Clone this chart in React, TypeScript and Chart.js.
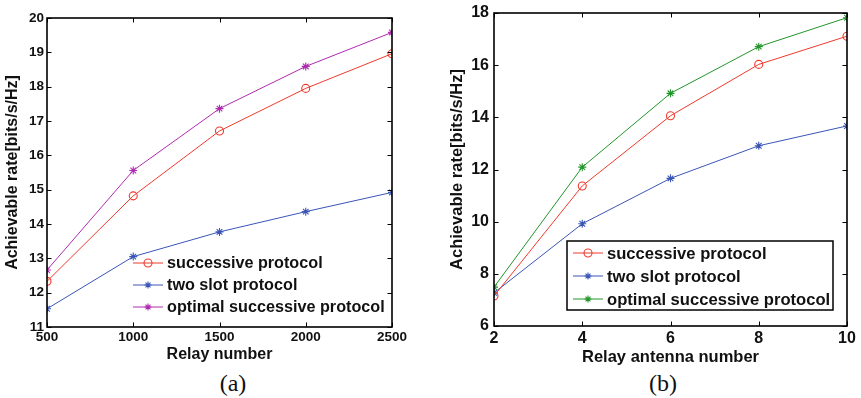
import React, { useEffect, useRef } from 'react';
import { Chart, registerables } from 'chart.js';
Chart.register(...registerables);

// ---- data ----
const relayNumbers = [500, 1000, 1500, 2000, 2500];
const successiveA = [12.33, 14.82, 16.71, 17.95, 18.96];
const twoSlotA = [11.53, 13.05, 13.77, 14.36, 14.92];
const optimalA = [12.66, 15.56, 17.36, 18.59, 19.58];

const antennaNumbers = [2, 4, 6, 8, 10];
const successiveB = [7.15, 11.37, 14.06, 16.03, 17.11];
const twoSlotB = [7.27, 9.92, 11.66, 12.91, 13.67];
const optimalB = [7.49, 12.09, 14.92, 16.71, 17.82];

const seriesLabels = ['successive protocol', 'two slot protocol', 'optimal successive protocol'];
const yTitle = 'Achievable rate[bits/s/Hz]';
const xTitleA = 'Relay number';
const xTitleB = 'Relay antenna number';

const RED = '#ee3a2c';
const BLUE = '#3a55b6';
const MAGENTA = '#b02ab0';
const GREEN = '#22962a';
const FONT = "'Liberation Sans', Arial, sans-serif";

function drawMarker(ctx: CanvasRenderingContext2D, style: string, x: number, y: number, r: number, color: string) {
  ctx.save();
  ctx.strokeStyle = color;
  ctx.lineWidth = 1.1;
  ctx.beginPath();
  if (style === 'circle') {
    ctx.arc(x, y, r, 0, Math.PI * 2);
  } else {
    ctx.moveTo(x - r, y); ctx.lineTo(x + r, y);
    ctx.moveTo(x, y - r); ctx.lineTo(x, y + r);
    const d = r * Math.SQRT1_2;
    ctx.moveTo(x - d, y - d); ctx.lineTo(x + d, y + d);
    ctx.moveTo(x - d, y + d); ctx.lineTo(x + d, y - d);
  }
  ctx.stroke();
  ctx.restore();
}

const framePlugin = {
  id: 'frame',
  afterDatasetsDraw(chart: any) {
    const { ctx, chartArea, scales } = chart;
    const { left, right, top, bottom } = chartArea;
    const L = 4.5;
    ctx.save();
    ctx.strokeStyle = '#000';
    ctx.lineWidth = 1;
    ctx.beginPath();
    scales.x.ticks.forEach((t: any) => {
      const px = Math.round(scales.x.getPixelForValue(t.value)) + 0.5;
      ctx.moveTo(px, bottom); ctx.lineTo(px, bottom - L);
      ctx.moveTo(px, top); ctx.lineTo(px, top + L);
    });
    scales.y.ticks.forEach((t: any) => {
      const py = Math.round(scales.y.getPixelForValue(t.value)) + 0.5;
      ctx.moveTo(left, py); ctx.lineTo(left + L, py);
      ctx.moveTo(right, py); ctx.lineTo(right - L, py);
    });
    ctx.stroke();
    ctx.lineWidth = 1.6;
    ctx.strokeRect(left, top, right - left, bottom - top);
    ctx.restore();
  },
};

const legendPlugin = {
  id: 'customLegend',
  afterDraw(chart: any, _args: any, opts: any) {
    const { ctx } = chart;
    ctx.save();
    if (opts.box) {
      const b = opts.box;
      ctx.fillStyle = '#fff';
      ctx.fillRect(b[0], b[1], b[2] - b[0], b[3] - b[1]);
      ctx.strokeStyle = '#000';
      ctx.lineWidth = 1.5;
      ctx.strokeRect(b[0], b[1], b[2] - b[0], b[3] - b[1]);
    }
    chart.data.datasets.forEach((ds: any, i: number) => {
      const y = opts.rows[i];
      ctx.strokeStyle = ds.borderColor;
      ctx.lineWidth = 1;
      ctx.beginPath();
      ctx.moveTo(opts.x0, y); ctx.lineTo(opts.x1, y);
      ctx.stroke();
      drawMarker(ctx, ds.pointStyle, (opts.x0 + opts.x1) / 2, y, ds.pointStyle === 'circle' ? 4 : 3.5, ds.borderColor);
      ctx.fillStyle = '#111';
      ctx.font = `bold ${opts.fontSize}px ${FONT}`;
      ctx.textBaseline = 'middle';
      ctx.textAlign = 'left';
      ctx.fillText(ds.label, opts.textX, y + 1);
    });
    ctx.restore();
  },
};

type PanelCfg = {
  left: number; width: number; height: number;
  xs: number[]; series: number[][]; colors: string[]; styles: string[];
  xMin: number; xMax: number; xStep: number;
  yMin: number; yMax: number; yStep: number;
  padTop: number; padRight: number; yWidth: number; xHeight: number;
  tickFont: number; yTickPad: number; xTickPad: number;
  titleFont: number; xTitle: string; xTitlePadBottom: number; yTitlePadTop: number;
  legend: any;
};

function Panel({ cfg }: { cfg: PanelCfg }) {
  const ref = useRef<HTMLCanvasElement>(null);
  useEffect(() => {
    if (!ref.current) return;
    const datasets = cfg.series.map((vals, i) => ({
      label: seriesLabels[i],
      data: cfg.xs.map((x, j) => ({ x, y: vals[j] })),
      borderColor: cfg.colors[i],
      backgroundColor: 'rgba(0,0,0,0)',
      borderWidth: 1,
      pointStyle: cfg.styles[i],
      pointRadius: 4,
      pointBorderWidth: 1.1,
      pointBorderColor: cfg.colors[i],
      pointBackgroundColor: 'rgba(0,0,0,0)',
      tension: 0,
      fill: false,
    }));
    const chart = new Chart(ref.current, {
      type: 'line',
      data: { datasets },
      options: {
        animation: false,
        responsive: false,
        devicePixelRatio: 1,
        layout: { padding: { top: cfg.padTop, right: cfg.padRight, left: 0, bottom: 0 } },
        plugins: {
          legend: { display: false },
          tooltip: { enabled: false },
          customLegend: cfg.legend,
        } as any,
        scales: {
          x: {
            type: 'linear',
            min: cfg.xMin, max: cfg.xMax,
            grid: { display: false, drawTicks: false },
            border: { display: false },
            ticks: {
              stepSize: cfg.xStep, padding: cfg.xTickPad, color: '#111',
              maxRotation: 0, autoSkip: false,
              callback: (v: any) => String(v),
              font: { family: FONT, size: cfg.tickFont, weight: 'bold', lineHeight: 1 },
            },
            title: {
              display: true, text: cfg.xTitle, color: '#111',
              padding: { top: 0, bottom: cfg.xTitlePadBottom },
              font: { family: FONT, size: cfg.titleFont, weight: 'bold', lineHeight: 1.2 },
            },
            afterFit: (s: any) => { s.height = cfg.xHeight; },
          },
          y: {
            type: 'linear',
            min: cfg.yMin, max: cfg.yMax,
            grid: { display: false, drawTicks: false },
            border: { display: false },
            ticks: {
              stepSize: cfg.yStep, padding: cfg.yTickPad, color: '#111', autoSkip: false,
              callback: (v: any) => String(v),
              font: { family: FONT, size: cfg.tickFont, weight: 'bold', lineHeight: 1 },
            },
            title: {
              display: true, text: yTitle, color: '#111',
              padding: { top: cfg.yTitlePadTop, bottom: 0 },
              font: { family: FONT, size: cfg.titleFont, weight: 'bold', lineHeight: 1.2 },
            },
            afterFit: (s: any) => { s.width = cfg.yWidth; },
          },
        },
      } as any,
      plugins: [framePlugin, legendPlugin],
    });
    return () => chart.destroy();
  }, []);
  return (
    <canvas
      ref={ref}
      width={cfg.width}
      height={cfg.height}
      style={{ position: 'absolute', left: cfg.left, top: 0, width: cfg.width, height: cfg.height }}
    />
  );
}

const panelA: PanelCfg = {
  left: 0, width: 420, height: 370,
  xs: relayNumbers, series: [successiveA, twoSlotA, optimalA],
  colors: [RED, BLUE, MAGENTA], styles: ['circle', 'star', 'star'],
  xMin: 500, xMax: 2500, xStep: 500, yMin: 11, yMax: 20, yStep: 1,
  padTop: 18, padRight: 28, yWidth: 47, xHeight: 43,
  tickFont: 13.5, yTickPad: 3, xTickPad: 4,
  titleFont: 16, xTitle: xTitleA, xTitlePadBottom: 5.4, yTitlePadTop: 3.4,
  legend: { x0: 133, x1: 163, textX: 167, rows: [263, 285, 307], fontSize: 16.2, box: null },
};

const panelB: PanelCfg = {
  left: 430, width: 431, height: 370,
  xs: antennaNumbers, series: [successiveB, twoSlotB, optimalB],
  colors: [RED, BLUE, GREEN], styles: ['circle', 'star', 'star'],
  xMin: 2, xMax: 10, xStep: 2, yMin: 6, yMax: 18, yStep: 2,
  padTop: 9, padRight: 14, yWidth: 64, xHeight: 44,
  tickFont: 16, yTickPad: 5, xTickPad: 5,
  titleFont: 16.5, xTitle: xTitleB, xTitlePadBottom: 3.1, yTitlePadTop: 17.1,
  legend: { x0: 143, x1: 173, textX: 177, rows: [253, 276, 299], fontSize: 16.6, box: [137, 241, 403, 310] },
};

export default function App() {
  useEffect(() => {
    document.body.style.margin = '0';
  }, []);
  const cap: React.CSSProperties = {
    position: 'absolute', top: 370, width: 60, textAlign: 'center',
    fontFamily: "'Liberation Serif', 'Times New Roman', serif", fontSize: 24, lineHeight: '26px', color: '#111',
  };
  return (
    <div style={{ position: 'fixed', left: 0, top: 0, width: 861, height: 398, background: '#fff', overflow: 'hidden' }}>
      <Panel cfg={panelA} />
      <Panel cfg={panelB} />
      <div style={{ ...cap, left: 233 - 30 }}>(a)</div>
      <div style={{ ...cap, left: 663 - 30 }}>(b)</div>
    </div>
  );
}
